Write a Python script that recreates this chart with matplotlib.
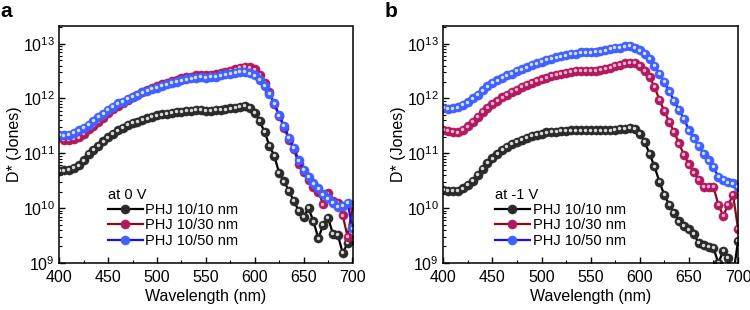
import numpy as np
import matplotlib
matplotlib.use("Agg")
import matplotlib.pyplot as plt
from matplotlib.transforms import offset_copy
from matplotlib.ticker import LogLocator, MultipleLocator, NullFormatter

plt.rcParams['font.family'] = ['Liberation Sans', 'DejaVu Sans']

# wavelength grid (nm), 5 nm steps
wl = np.arange(400, 701, 5)

# log10 of D* (Jones)
# panel a : at 0 V
a_1010 = [10.68, 10.69, 10.70, 10.73, 10.78, 10.87, 10.99, 11.06, 11.13, 11.22,
          11.29, 11.36, 11.42, 11.47, 11.52, 11.55, 11.58, 11.61, 11.64, 11.67,
          11.69, 11.71, 11.72, 11.74, 11.75, 11.76, 11.77, 11.78, 11.79, 11.79,
          11.78, 11.78, 11.79, 11.79, 11.80, 11.82, 11.83, 11.85, 11.87, 11.83,
          11.74, 11.59, 11.39, 11.14, 10.95, 10.64, 10.49, 10.31, 10.13, 9.95,
          9.84, 10.00, 9.76, 9.45, 9.69, 9.82, 9.53, 9.51, 9.18, 9.36,
          9.42]
a_1030 = [11.29, 11.25, 11.24, 11.26, 11.29, 11.36, 11.44, 11.50, 11.58, 11.65,
          11.73, 11.80, 11.87, 11.92, 11.97, 12.02, 12.07, 12.11, 12.15, 12.19,
          12.23, 12.26, 12.29, 12.32, 12.34, 12.37, 12.39, 12.40, 12.42, 12.42,
          12.42, 12.43, 12.44, 12.47, 12.48, 12.51, 12.53, 12.56, 12.58, 12.57,
          12.53, 12.43, 12.29, 12.11, 11.90, 11.68, 11.47, 11.25, 11.07, 10.81,
          10.66, 10.51, 10.39, 10.30, 10.07, 10.27, 10.13, 10.09, 9.87, 9.47,
          10.05]
a_1050 = [11.34, 11.33, 11.34, 11.37, 11.42, 11.47, 11.52, 11.59, 11.66, 11.72,
          11.79, 11.85, 11.91, 11.94, 11.99, 12.03, 12.07, 12.11, 12.14, 12.17,
          12.20, 12.23, 12.26, 12.28, 12.31, 12.33, 12.35, 12.37, 12.38, 12.39,
          12.38, 12.39, 12.40, 12.42, 12.44, 12.45, 12.47, 12.48, 12.48, 12.46,
          12.42, 12.34, 12.23, 12.08, 11.91, 11.69, 11.50, 11.28, 11.10, 10.87,
          10.70, 10.57, 10.45, 10.36, 10.25, 10.18, 10.09, 10.02, 10.04, 10.09,
          9.63]

# panel b : at -1 V
b_1010 = [10.33, 10.32, 10.31, 10.32, 10.36, 10.42, 10.50, 10.61, 10.71, 10.82,
          10.91, 10.99, 11.06, 11.12, 11.17, 11.21, 11.25, 11.28, 11.32, 11.34,
          11.36, 11.38, 11.39, 11.39, 11.41, 11.41, 11.42, 11.42, 11.42, 11.42,
          11.42, 11.42, 11.42, 11.42, 11.42, 11.43, 11.44, 11.45, 11.46, 11.44,
          11.36, 11.21, 10.99, 10.76, 10.48, 10.24, 10.06, 9.91, 9.76, 9.67,
          9.61, 9.53, 9.36, 9.32, 9.29, 9.27, 9.00, 9.22, 9.09, 8.76,
          9.40]
b_1030 = [11.43, 11.41, 11.39, 11.38, 11.43, 11.49, 11.57, 11.66, 11.75, 11.83,
          11.90, 11.96, 12.02, 12.07, 12.12, 12.16, 12.21, 12.25, 12.28, 12.32,
          12.35, 12.38, 12.41, 12.43, 12.45, 12.47, 12.49, 12.50, 12.51, 12.51,
          12.51, 12.51, 12.52, 12.54, 12.56, 12.59, 12.62, 12.64, 12.65, 12.65,
          12.60, 12.51, 12.39, 12.21, 11.98, 11.77, 11.57, 11.39, 11.18, 10.97,
          10.80, 10.65, 10.52, 10.39, 10.39, 10.39, 10.06, 9.86, 10.06, 10.24,
          9.62]
b_1050 = [11.83, 11.81, 11.82, 11.84, 11.88, 11.93, 12.00, 12.07, 12.15, 12.22,
          12.28, 12.33, 12.38, 12.42, 12.45, 12.50, 12.53, 12.57, 12.61, 12.64,
          12.67, 12.70, 12.72, 12.75, 12.77, 12.79, 12.81, 12.82, 12.84, 12.84,
          12.84, 12.85, 12.86, 12.88, 12.90, 12.92, 12.93, 12.95, 12.96, 12.93,
          12.88, 12.81, 12.72, 12.60, 12.45, 12.30, 12.13, 11.96, 11.79, 11.63,
          11.42, 11.27, 11.13, 10.99, 10.87, 10.75, 10.57, 10.52, 10.47, 10.45,
          10.39]

labels = ['PHJ 10/10 nm', 'PHJ 10/30 nm', 'PHJ 10/50 nm']
line_colors = ['#000000', '#8b0a1a', '#1010ff']
face_colors = ['#2a2a2a', '#b01a5e', '#4060ff']
hi_colors = ['#d8d8d8', '#f0b0d0', '#d0e0ff']


def draw_panel(ax, fig, series, title, letter, leg_x):
  handles = []
  for ys, lab, lc, fc, hc in zip(series, labels, line_colors, face_colors, hi_colors):
    d = 10 ** np.array(ys)
    h, = ax.plot(wl, d, '-', color=lc, lw=1.6, marker='o', ms=6.6,
                 mfc=fc, mec=fc, mew=0.3, label=lab)
    # little specular spot on each sphere
    tr = offset_copy(ax.transData, fig=fig, x=-0.5, y=0.5, units='points')
    ax.plot(wl, d, 'o', ms=2.5, color=hc, mec='none', transform=tr)
    handles.append(h)

  ax.set_yscale('log')
  ax.set_xlim(400, 700)
  ax.set_ylim(1e9, 2.1e13)
  ax.xaxis.set_major_locator(MultipleLocator(50))
  ax.xaxis.set_minor_locator(MultipleLocator(25))
  ax.yaxis.set_major_locator(LogLocator(base=10, numticks=10))
  ax.yaxis.set_minor_locator(LogLocator(base=10, subs=np.arange(2, 10), numticks=20))
  ax.yaxis.set_minor_formatter(NullFormatter())
  ax.tick_params(which='both', direction='in', top=False, right=False,
                 labelsize=11.5)
  ax.tick_params(axis='x', pad=5)
  ax.tick_params(axis='y', pad=3)
  ax.tick_params(which='major', length=4.5, width=1)
  ax.tick_params(which='minor', length=2.5, width=0.8)
  for s in ax.spines.values():
    s.set_linewidth(1.1)
  ax.set_xlabel('Wavelength (nm)', fontsize=11.5, labelpad=3)
  ax.set_ylabel('D* (Jones)', fontsize=11.5, labelpad=1)

  leg = ax.legend(handles=handles, title=title, loc='lower left',
                  bbox_to_anchor=(leg_x, 0.02), frameon=False, fontsize=10.5,
                  title_fontsize=10.5, numpoints=1, handlelength=2.4,
                  handletextpad=0.2, labelspacing=0.1, borderpad=0.2,
                  alignment='left')
  ax.text(-0.2, 1.1, letter, transform=ax.transAxes, fontsize=15,
          fontweight='bold', va='top', ha='left')


fig = plt.figure(figsize=(7.5, 3.1), dpi=100)
ax1 = fig.add_axes([0.079, 0.152, 0.391, 0.764])
ax2 = fig.add_axes([0.591, 0.152, 0.393, 0.764])

draw_panel(ax1, fig, [a_1010, a_1030, a_1050], 'at 0 V', 'a', 0.13)
draw_panel(ax2, fig, [b_1010, b_1030, b_1050], 'at -1 V', 'b', 0.14)

fig.savefig('out.png', dpi=100)
